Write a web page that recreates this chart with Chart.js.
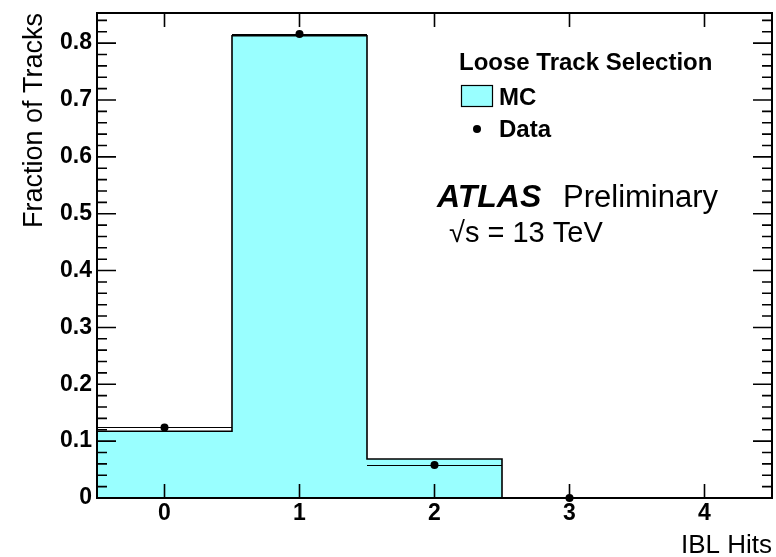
<!DOCTYPE html>
<html>
<head>
<meta charset="utf-8">
<script src="https://cdn.jsdelivr.net/npm/chart.js@4/dist/chart.umd.min.js"></script>
<style>
  html, body { margin: 0; padding: 0; background: #fff; }
  canvas { display: block; }
</style>
</head>
<body>
<canvas id="c" width="776" height="557"></canvas>
<script>
// IBL hit multiplicity per track, loose track selection
const hitBins   = [0, 1, 2, 3, 4];
const mcValues  = [0.1175, 0.813, 0.0686, 0, 0];
const dataBins  = [0, 1, 2, 3];
const dataValues = [0.124, 0.816, 0.058, 0];
const yTickValues = [0, 0.1, 0.2, 0.3, 0.4, 0.5, 0.6, 0.7, 0.8];
const xTickValues = [0, 1, 2, 3, 4];

const FONT = '"Liberation Sans", Arial, Helvetica, sans-serif';
const MC_FILL = '#99ffff';

// step outline: a point at each lower bin edge, closed at the last upper edge;
// with stepped 'before' each segment keeps the value of its starting point
const mcStep = hitBins.map((b, i) => ({ x: b - 0.5, y: mcValues[i] }));
mcStep.push({ x: hitBins[hitBins.length - 1] + 0.5, y: mcValues[mcValues.length - 1] });

const dataPoints = dataBins.map((b, i) => ({ x: b, y: dataValues[i] }));

// ROOT-style frame with inward ticks on all four sides
const framePlugin = {
  id: 'frame',
  afterDatasetDraw(chart, args) {
    if (args.index !== 0) return;
    // horizontal bin-width bars of the data points
    const ctx = chart.ctx, xs = chart.scales.x, ys = chart.scales.y;
    ctx.save();
    ctx.strokeStyle = '#000';
    ctx.lineWidth = 1;
    dataBins.forEach((b, i) => {
      const y = Math.round(ys.getPixelForValue(dataValues[i])) + 0.5;
      ctx.beginPath();
      ctx.moveTo(xs.getPixelForValue(b - 0.5), y);
      ctx.lineTo(xs.getPixelForValue(b + 0.5), y);
      ctx.stroke();
    });
    ctx.restore();
  },
  afterDraw(chart) {
    const ctx = chart.ctx, a = chart.chartArea;
    const xs = chart.scales.x, ys = chart.scales.y;
    ctx.save();
    ctx.strokeStyle = '#000';
    ctx.lineWidth = 1.6;
    // y ticks: major every 0.1, minor every 0.02
    for (let k = 0; k * 0.02 <= ys.max + 1e-9; k++) {
      const v = k * 0.02;
      const y = ys.getPixelForValue(v);
      const len = (k % 5 === 0) ? 19 : 10;
      ctx.beginPath();
      ctx.moveTo(a.left, y); ctx.lineTo(a.left + len, y);
      ctx.moveTo(a.right, y); ctx.lineTo(a.right - len, y);
      ctx.stroke();
    }
    // x ticks at integer hit counts
    xTickValues.forEach(v => {
      const x = xs.getPixelForValue(v);
      ctx.beginPath();
      ctx.moveTo(x, a.bottom); ctx.lineTo(x, a.bottom - 14);
      ctx.moveTo(x, a.top); ctx.lineTo(x, a.top + 14);
      ctx.stroke();
    });
    ctx.lineWidth = 2;
    ctx.strokeRect(a.left, a.top, a.right - a.left, a.bottom - a.top);

    // legend
    ctx.fillStyle = '#000';
    ctx.textBaseline = 'alphabetic';
    ctx.textAlign = 'left';
    ctx.font = 'bold 24px ' + FONT;
    ctx.fillText('Loose Track Selection', 459, 70);
    ctx.fillStyle = MC_FILL;
    ctx.fillRect(461, 85, 32, 22);
    ctx.lineWidth = 1.2;
    ctx.strokeRect(461.5, 85.5, 31, 21);
    ctx.fillStyle = '#000';
    ctx.fillText('MC', 499, 105);
    ctx.beginPath();
    ctx.arc(477, 129, 4, 0, Math.PI * 2);
    ctx.fill();
    ctx.fillText('Data', 499, 137);

    // experiment label
    ctx.font = 'italic bold 32px ' + FONT;
    ctx.fillText('ATLAS', 437, 207);
    ctx.font = '31px ' + FONT;
    ctx.fillText('Preliminary', 563, 207);
    ctx.font = '29px ' + FONT;
    ctx.fillText('\u221As = 13 TeV', 449, 242);
    ctx.restore();
  }
};

new Chart(document.getElementById('c'), {
  type: 'line',
  data: {
    datasets: [
      {
        label: 'MC',
        data: mcStep,
        stepped: 'before',
        fill: 'origin',
        backgroundColor: MC_FILL,
        borderColor: '#000',
        borderWidth: 1.6,
        pointRadius: 0,
        order: 2
      },
      {
        label: 'Data',
        type: 'scatter',
        data: dataPoints,
        pointRadius: 4,
        pointBackgroundColor: '#000',
        pointBorderColor: '#000',
        pointBorderWidth: 0,
        clip: false,
        order: 1
      }
    ]
  },
  options: {
    responsive: false,
    animation: false,
    devicePixelRatio: 1,
    layout: { padding: { top: 13, right: 2, left: 0, bottom: 0 } },
    plugins: { legend: { display: false }, tooltip: { enabled: false } },
    scales: {
      x: {
        type: 'linear',
        min: -0.5,
        max: 4.5,
        grid: { display: false, drawTicks: false, tickLength: 0 },
        border: { display: false },
        afterBuildTicks: s => { s.ticks = xTickValues.map(v => ({ value: v })); },
        afterFit: s => { s.height = 59; s.paddingLeft = 0; s.paddingRight = 0; },
        ticks: {
          color: '#000',
          padding: 2,
          font: { family: FONT, size: 23, weight: 'bold' },
          callback: v => String(v)
        },
        title: {
          display: true,
          text: 'IBL Hits',
          align: 'end',
          color: '#000',
          font: { family: FONT, size: 26, lineHeight: 0.8 },
          padding: { top: 0, bottom: 1 }
        }
      },
      y: {
        type: 'linear',
        min: 0,
        max: 0.853,
        grid: { display: false, drawTicks: false, tickLength: 0 },
        border: { display: false },
        afterBuildTicks: s => { s.ticks = yTickValues.map(v => ({ value: v })); },
        afterFit: s => { s.width = 97; s.paddingTop = 0; s.paddingBottom = 0; },
        ticks: {
          color: '#000',
          padding: 5,
          font: { family: FONT, size: 23, weight: 'bold' },
          callback: v => (v === 0 ? '0' : v.toFixed(1))
        },
        title: {
          display: true,
          text: 'Fraction of Tracks',
          align: 'end',
          color: '#000',
          font: { family: FONT, size: 27, lineHeight: 1.2 },
          padding: { top: 18, bottom: 0 }
        }
      }
    }
  },
  plugins: [framePlugin]
});
</script>
</body>
</html>
